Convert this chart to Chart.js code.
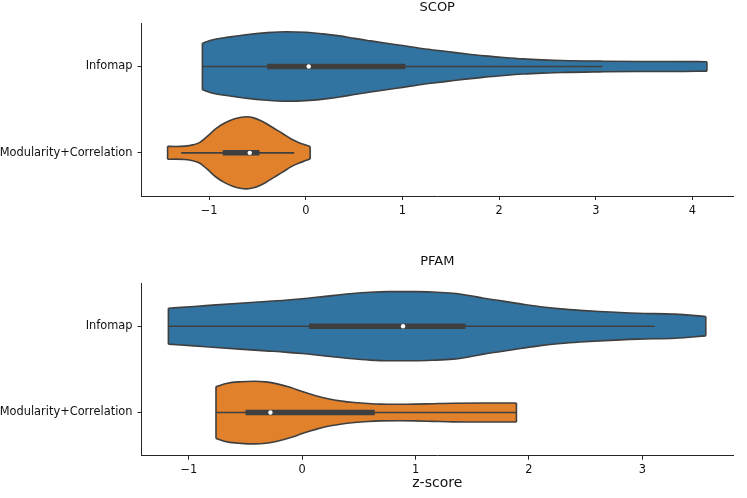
<!DOCTYPE html>
<html><head><meta charset="utf-8">
<script src="https://cdn.jsdelivr.net/npm/chart.js@4.4.0/dist/chart.umd.min.js"></script>
<style>html,body{margin:0;padding:0;background:#fff;overflow:hidden;} canvas{display:block;}</style>
</head><body>
<canvas id="topChart" width="747" height="249"></canvas>
<canvas id="bottomChart" width="747" height="249"></canvas>
<script>
const categories = ['Infomap', 'Modularity+Correlation'];
const panelTitles = ['SCOP', 'PFAM'];
const axisLabel = 'z-score';
const scopTicks = [-1, 0, 1, 2, 3, 4];
const pfamTicks = [-1, 0, 1, 2, 3];

// violin profiles: x positions (z-score) and half-widths (category units)
const scopInfomapX = [-1.07, -0.96, -0.8, -0.64, -0.4, -0.2, 0, 0.2, 0.35, 0.5, 0.67, 0.85, 1.0, 1.2, 1.46, 1.65, 1.85, 2.05, 2.25, 2.45, 2.65, 3.04, 3.44, 3.83, 4.15];
const scopInfomapW = [0.27, 0.31, 0.34, 0.365, 0.392, 0.403, 0.396, 0.375, 0.354, 0.325, 0.296, 0.266, 0.242, 0.208, 0.173, 0.147, 0.123, 0.104, 0.088, 0.077, 0.069, 0.062, 0.058, 0.058, 0.054];
const scopModX = [-1.43, -1.35, -1.25, -1.17, -1.10, -1.02, -0.93, -0.84, -0.75, -0.68, -0.61, -0.54, -0.47, -0.41, -0.33, -0.24, -0.15, -0.07, 0.0, 0.045];
const scopModW = [0.075, 0.073, 0.078, 0.092, 0.118, 0.19, 0.28, 0.345, 0.39, 0.41, 0.417, 0.405, 0.375, 0.34, 0.285, 0.224, 0.16, 0.118, 0.09, 0.072];
const pfamInfomapX = [-1.18, -0.95, -0.76, -0.55, -0.32, -0.15, 0, 0.2, 0.42, 0.6, 0.76, 1.0, 1.15, 1.33, 1.47, 1.6, 1.77, 1.94, 2.1, 2.28, 2.45, 2.62, 2.96, 3.29, 3.56];
const pfamInfomapW = [0.208, 0.228, 0.247, 0.266, 0.286, 0.3, 0.317, 0.345, 0.375, 0.393, 0.40, 0.40, 0.395, 0.382, 0.356, 0.324, 0.29, 0.255, 0.225, 0.20, 0.183, 0.17, 0.15, 0.139, 0.112];
const pfamModX = [-0.76, -0.66, -0.54, -0.42, -0.32, -0.22, -0.1, 0, 0.12, 0.25, 0.35, 0.46, 0.58, 0.69, 0.85, 1.0, 1.15, 1.33, 1.6, 1.89];
const pfamModW = [0.30, 0.34, 0.357, 0.363, 0.355, 0.332, 0.29, 0.243, 0.195, 0.154, 0.132, 0.116, 0.104, 0.097, 0.095, 0.097, 0.102, 0.108, 0.11, 0.11];

// box stats: [whisker low, q1, median, q3, whisker high]
const scopInfomapBox = [-1.07, -0.40, 0.03, 1.03, 3.07];
const scopModBox = [-1.29, -0.86, -0.58, -0.48, -0.12];
const pfamInfomapBox = [-1.18, 0.06, 0.89, 1.44, 3.11];
const pfamModBox = [-0.76, -0.50, -0.28, 0.64, 1.89];

const fillColors = ['#3274a1', '#e1812c'];
const lineColor = '#3f3f3f';
const spineColor = '#262626';
const textColor = '#111111';
const fontFamily = "'DejaVu Sans', sans-serif";

function violinDatasets(xs, ws, box, center, color) {
  const n = xs.length - 1;
  const base = {showLine: true, pointRadius: 0, borderColor: lineColor, fill: false};
  return [
    {data: [{x: box[2], y: center}], showLine: false, pointRadius: 2.2, pointBackgroundColor: '#ffffff', pointBorderWidth: 0},
    Object.assign({}, base, {data: [{x: box[1], y: center}, {x: box[3], y: center}], borderWidth: 5.5, borderCapStyle: 'butt'}),
    Object.assign({}, base, {data: [{x: box[0], y: center}, {x: box[4], y: center}], borderWidth: 1.6}),
    Object.assign({}, base, {data: xs.map((x, i) => ({x, y: center - ws[i]})), fill: '+1', backgroundColor: color, borderWidth: 1.6, cubicInterpolationMode: 'monotone'}),
    Object.assign({}, base, {data: xs.map((x, i) => ({x, y: center + ws[i]})), borderWidth: 1.6, cubicInterpolationMode: 'monotone'}),
    Object.assign({}, base, {data: [{x: xs[0], y: center - ws[0]}, {x: xs[0], y: center + ws[0]}], borderWidth: 1.6}),
    Object.assign({}, base, {data: [{x: xs[n], y: center - ws[n]}, {x: xs[n], y: center + ws[n]}], borderWidth: 1.6})
  ];
}

function fmtTick(v) { return v < 0 ? '\u2212' + Math.abs(v) : String(v); }

function makeChart(id, cfg) {
  const datasets = [].concat(
    violinDatasets(cfg.infX, cfg.infW, cfg.infBox, 0, fillColors[0]),
    violinDatasets(cfg.modX, cfg.modW, cfg.modBox, 1, fillColors[1])
  );
  return new Chart(document.getElementById(id), {
    type: 'scatter',
    data: {datasets},
    options: {
      responsive: false,
      animation: false,
      events: [],
      layout: {padding: {left: 0, right: 14, top: 0, bottom: 0}},
      plugins: {
        legend: {display: false},
        tooltip: {enabled: false},
        filler: {drawTime: 'beforeDatasetsDraw'},
        title: {display: true, text: cfg.title, fullSize: false, color: textColor,
          font: {family: fontFamily, size: 13, weight: 'normal', lineHeight: 1.1},
          padding: cfg.titlePad}
      },
      scales: {
        x: {
          type: 'linear', min: cfg.xmin, max: cfg.xmax,
          afterBuildTicks: s => { s.ticks = cfg.ticks.map(v => ({value: v})); },
          afterFit: s => { s.height = cfg.xAxisHeight; },
          ticks: {callback: v => fmtTick(v), color: textColor, font: {family: fontFamily, size: 11.4}, padding: 4, maxRotation: 0, autoSkip: false},
          grid: {display: true, drawOnChartArea: false, drawTicks: true, tickLength: 4, color: spineColor, lineWidth: 1},
          border: {display: true, color: spineColor, width: 1},
          title: {display: cfg.showXTitle, text: axisLabel, color: textColor,
            font: {family: fontFamily, size: 14, lineHeight: 1.2}, padding: {top: 0, bottom: 6}}
        },
        y: {
          type: 'linear', min: -0.5, max: 1.5, reverse: true,
          afterBuildTicks: s => { s.ticks = categories.map((c, i) => ({value: i})); },
          afterFit: s => { s.width = 141.5; },
          ticks: {callback: v => categories[v], color: textColor, font: {family: fontFamily, size: 11.4}, padding: 5, autoSkip: false},
          grid: {display: true, drawOnChartArea: false, drawTicks: true, tickLength: 4, color: spineColor, lineWidth: 1},
          border: {display: true, color: spineColor, width: 1}
        }
      }
    }
  });
}

makeChart('topChart', {
  title: panelTitles[0], titlePad: {top: 0.05, bottom: 8.95},
  xmin: -1.70, xmax: 4.42, ticks: scopTicks, xAxisHeight: 53, showXTitle: false,
  infX: scopInfomapX, infW: scopInfomapW, infBox: scopInfomapBox,
  modX: scopModX, modW: scopModW, modBox: scopModBox
});
makeChart('bottomChart', {
  title: panelTitles[1], titlePad: {top: 5.55, bottom: 14.15},
  xmin: -1.417, xmax: 3.80, ticks: pfamTicks, xAxisHeight: 42.3, showXTitle: true,
  infX: pfamInfomapX, infW: pfamInfomapW, infBox: pfamInfomapBox,
  modX: pfamModX, modW: pfamModW, modBox: pfamModBox
});
</script>
</body></html>
